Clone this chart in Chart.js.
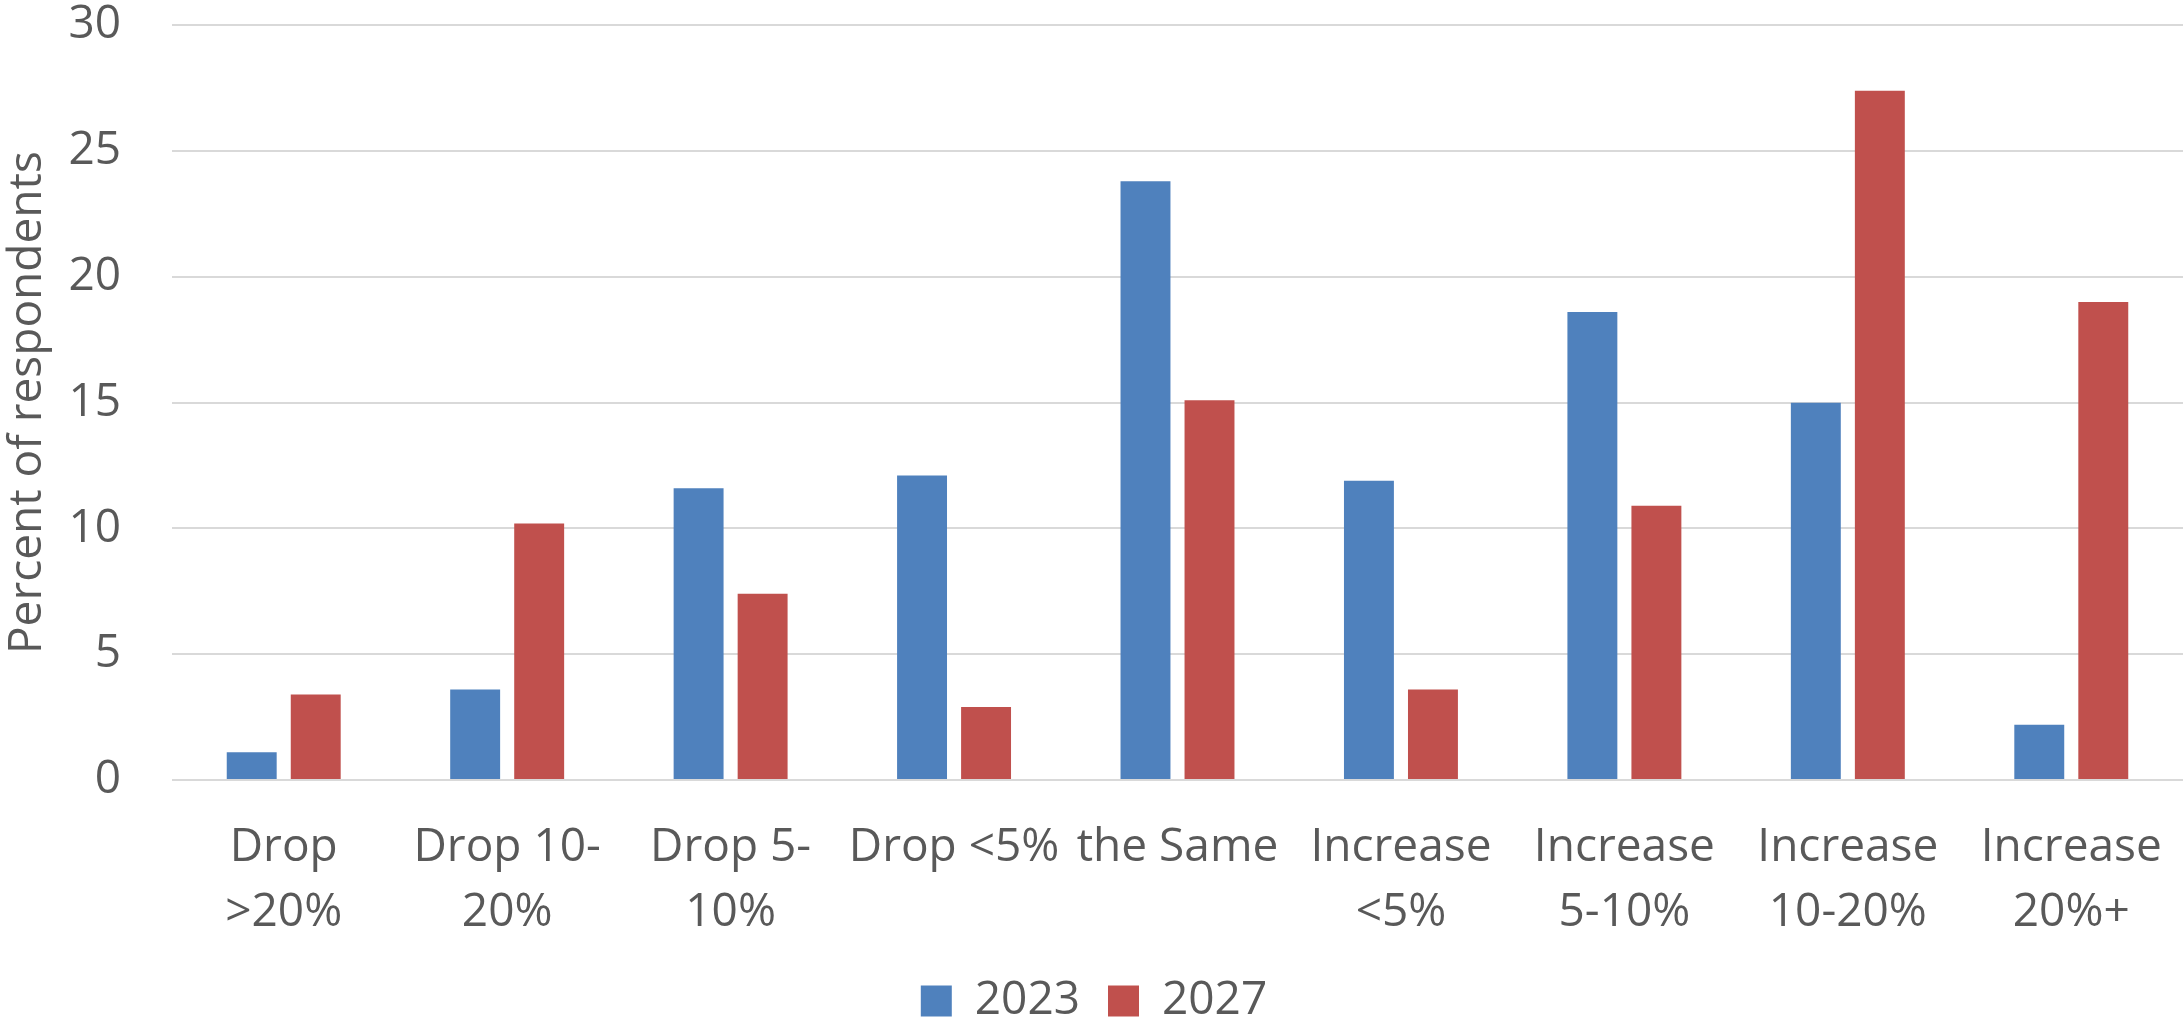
<!DOCTYPE html>
<html>
<head>
<meta charset="utf-8">
<script src="https://cdn.jsdelivr.net/npm/chart.js@4.4.1/dist/chart.umd.min.js"></script>
<style>
  html, body { margin: 0; padding: 0; background: #fff; }
  #chart { display: block; }
</style>
</head>
<body>
<canvas id="chart" width="2183" height="1024"></canvas>
<script>
// categories (multi-line labels like the original)
var categories = [
	["Drop", ">20%"],
	["Drop 10-", "20%"],
	["Drop 5-", "10%"],
	"Drop <5%",
	"the Same",
	["Increase", "<5%"],
	["Increase", "5-10%"],
	["Increase", "10-20%"],
	["Increase", "20%+"]
];
var values2023 = [1.1, 3.6, 11.6, 12.1, 23.8, 11.9, 18.6, 15.0, 2.2];
var values2027 = [3.4, 10.2, 7.4, 2.9, 15.1, 3.6, 10.9, 27.4, 19.0];
var yTicks = [0, 5, 10, 15, 20, 25, 30];

var textColor = "#595959";
var fontName = "'Open Sans', 'Noto Sans', sans-serif";

var ctx = document.getElementById("chart").getContext("2d");
var myChart = new Chart(ctx, {
	type: "bar",
	data: {
		labels: categories,
		datasets: [{
			label: "2023",
			data: values2023,
			backgroundColor: "#4F81BD"
		}, {
			label: "2027",
			data: values2027,
			backgroundColor: "#C0504D"
		}]
	},
	options: {
		responsive: false,
		animation: false,
		categoryPercentage: 0.573,
		barPercentage: 0.78,
		layout: {
			// negative bottom pushes the legend a bit lower, like the original
			// plot runs slightly past the right edge in the original too
			padding: { top: 0, right: -5, bottom: -10, left: 0 }
		},
		plugins: {
			legend: {
				position: "bottom",
				labels: {
					boxWidth: 31,
					boxHeight: 31,
					padding: 28,
					color: textColor,
					font: { family: fontName, size: 46 }
				}
			},
			tooltip: { enabled: false }
		},
		scales: {
			x: {
				grid: { display: false },
				border: { display: false },
				ticks: {
					color: textColor,
					font: { family: fontName, size: 46, lineHeight: 1.4 },
					maxRotation: 0,
					autoSkip: false,
					padding: 28
				},
				afterFit: function(scale){
					scale.height = 170;
					scale.paddingLeft = 0;
					scale.paddingRight = 0;
				}
			},
			y: {
				min: 0,
				max: 30,
				afterBuildTicks: function(scale){
					scale.ticks = yTicks.map(function(v){ return { value: v }; });
				},
				// invisible tick marks give the gap between labels and plot
				grid: { color: "#d9d9d9", lineWidth: 2, drawTicks: true, tickLength: 51, tickColor: "rgba(0,0,0,0)" },
				border: { display: false },
				ticks: {
					color: textColor,
					font: { family: fontName, size: 46, lineHeight: 1.1 },
					padding: 0
				},
				title: {
					display: true,
					text: "Percent of respondents",
					color: textColor,
					font: { family: fontName, size: 46 },
					padding: { top: 0, bottom: 0 }
				},
				afterFit: function(scale){ scale.width = 172; }
			}
		}
	}
});
</script>
</body>
</html>
